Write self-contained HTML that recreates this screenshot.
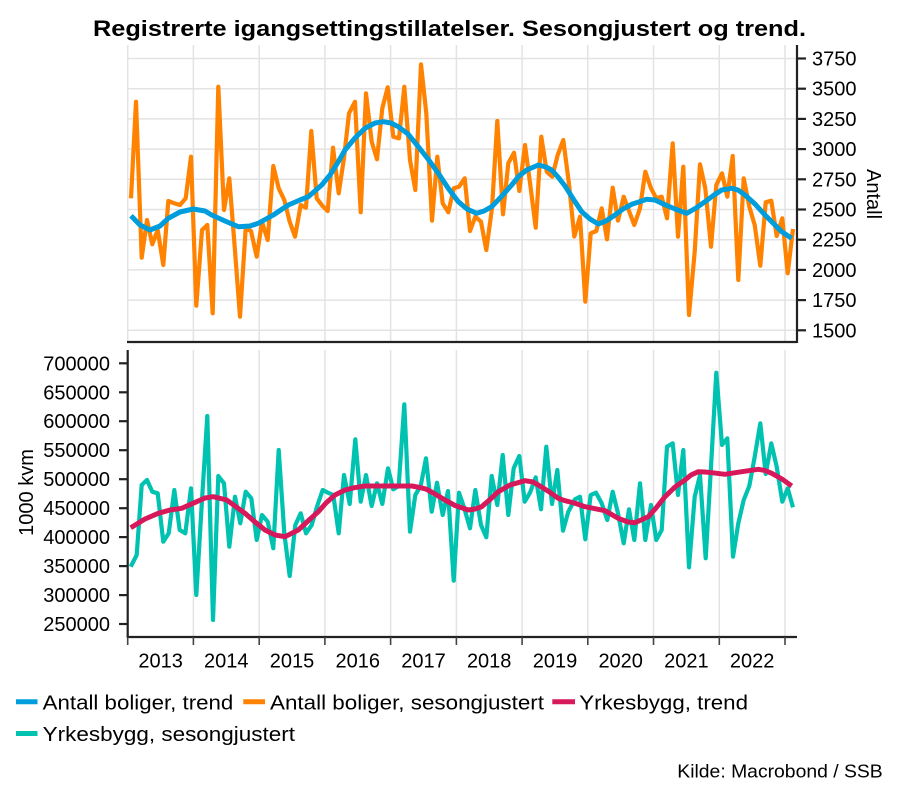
<!DOCTYPE html>
<html>
<head>
<meta charset="utf-8">
<style>
html,body{margin:0;padding:0;background:#fff;}
svg{display:block;}
text{font-family:"Liberation Sans",Arial,sans-serif;fill:#000;}
</style>
</head>
<body>
<svg width="900" height="799" viewBox="0 0 900 799" xmlns="http://www.w3.org/2000/svg">
<rect width="900" height="799" fill="#fff"/>
<!-- Title -->
<text x="93" y="36" font-size="22.5" font-weight="bold" textLength="713" lengthAdjust="spacingAndGlyphs">Registrerte igangsettingstillatelser. Sesongjustert og trend.</text>

<!-- TOP PANEL gridlines -->
<g stroke="#e3e3e3" stroke-width="1.5">
<line x1="127" y1="58.5" x2="797" y2="58.5"/>
<line x1="127" y1="88.7" x2="797" y2="88.7"/>
<line x1="127" y1="118.9" x2="797" y2="118.9"/>
<line x1="127" y1="149.1" x2="797" y2="149.1"/>
<line x1="127" y1="179.3" x2="797" y2="179.3"/>
<line x1="127" y1="209.5" x2="797" y2="209.5"/>
<line x1="127" y1="239.7" x2="797" y2="239.7"/>
<line x1="127" y1="269.9" x2="797" y2="269.9"/>
<line x1="127" y1="300.1" x2="797" y2="300.1"/>
<line x1="127" y1="330.3" x2="797" y2="330.3"/>
<line x1="127.7" y1="45" x2="127.7" y2="342"/>
<line x1="193.4" y1="45" x2="193.4" y2="342"/>
<line x1="259.2" y1="45" x2="259.2" y2="342"/>
<line x1="324.9" y1="45" x2="324.9" y2="342"/>
<line x1="390.6" y1="45" x2="390.6" y2="342"/>
<line x1="456.4" y1="45" x2="456.4" y2="342"/>
<line x1="522.1" y1="45" x2="522.1" y2="342"/>
<line x1="587.8" y1="45" x2="587.8" y2="342"/>
<line x1="653.5" y1="45" x2="653.5" y2="342"/>
<line x1="719.3" y1="45" x2="719.3" y2="342"/>
<line x1="785" y1="45" x2="785" y2="342"/>
</g>
<!-- BOTTOM PANEL gridlines -->
<g stroke="#e3e3e3" stroke-width="1.5">
<line x1="193.4" y1="350" x2="193.4" y2="637"/>
<line x1="259.2" y1="350" x2="259.2" y2="637"/>
<line x1="324.9" y1="350" x2="324.9" y2="637"/>
<line x1="390.6" y1="350" x2="390.6" y2="637"/>
<line x1="456.4" y1="350" x2="456.4" y2="637"/>
<line x1="522.1" y1="350" x2="522.1" y2="637"/>
<line x1="587.8" y1="350" x2="587.8" y2="637"/>
<line x1="653.5" y1="350" x2="653.5" y2="637"/>
<line x1="719.3" y1="350" x2="719.3" y2="637"/>
<line x1="785" y1="350" x2="785" y2="637"/>
</g>

<!-- TOP series -->
<polyline fill="none" stroke="#ff8200" stroke-width="4.2" stroke-linejoin="round" points="131,198.3 136,101.7 141.7,257.7 147,220 152.3,244.3 157.7,230 163.3,265 168.3,201 174.3,203.3 180,205 185.7,198.3 191,156.7 196.3,305.7 202,230 207.3,225 212.7,313.3 218.3,86.7 224,210 229.3,178.3 234.7,247 240,316.7 245.7,228.3 251,231 256.7,256.7 262,221.7 267.7,240 273.3,166 278.7,188.3 284.3,200 289.7,221.7 295,236.7 300.7,205 306,207.7 311.3,131 316.7,198.3 322.3,205.7 327.7,211 333,147.7 338.7,193.3 344,158 349,113.3 355,101.7 360.7,212.3 366,93.3 371.7,141.7 377,159.3 382.3,108.3 387.7,87.3 393.3,136.7 399,138.3 404.3,86.7 410,160 415.3,190 421,64.3 426.3,113.3 432,220.7 437.3,156.7 442.7,203.3 448.3,212.3 453.7,188.3 459,186.7 464.7,178.3 470,231 475.3,216.7 481,221.7 486.3,250 492,208.3 497.3,121 503,214.3 508.3,163.3 514,152.7 519.3,191 525,145 530.3,185 535.7,227.7 541.3,136.7 546.7,171.7 552.3,176.7 557.7,155 563.3,140 569,184 574.3,236.5 580,216.7 585.3,301.7 590.7,233.3 596.3,231 601.7,208.3 607,239.3 612.7,187.7 618,220.7 623.7,196.7 629,211 634.3,225 640,208.3 645.3,171.7 651,188.3 656.3,198.3 661.7,196.7 667,218.3 672.7,143.3 678,236.7 683.3,166.7 689,315 694.7,251.7 700,164.3 705.3,188.3 711,246.7 716.3,185 722,173.3 727.3,196.7 732.7,156 738.3,280 743.7,178.3 749.3,206.7 754.7,225 760.3,265.7 765.7,202.3 771.3,200.7 776.7,236 782.3,218.3 787.7,273.3 793,229"/>
<polyline fill="none" stroke="#009ddc" stroke-width="5" stroke-linejoin="round" stroke-linecap="butt" points="131,215.7 140,225 150,230 160,226 168.3,218.3 180,212 193.3,209 205,211 211.7,215 225,221 238.3,226.7 250,226 258.3,223.3 273.3,215 288.3,205 300,200 308.3,196.7 321.7,185 330,175 338.3,161.7 345,150 355,138 365,128.3 375,123 383.3,121.7 391,123 398.3,126.7 408,134 418.3,146.7 428,159 438.3,173.3 448,188 458.3,201.7 467,209 476.7,213.3 484,211 491.7,206.7 501,197 511.7,185 519,176 526.7,170 538.3,165 546,167 551.7,170 558,177 565,186 575,201.7 581.7,211.7 590,219 598.3,224 606,221 615,215 623,209 631.7,204.3 646.7,199.3 655,200 661.7,203.3 675,209 686.7,213.3 696,208 705,201.7 714,195 721.7,190 731.7,188.3 738,190 745,195 755,204 765,215 774,224 781.7,231.7 791.7,238.3"/>

<!-- BOTTOM series -->
<polyline fill="none" stroke="#00c2b0" stroke-width="4.2" stroke-linejoin="round" points="130.7,566.7 136.7,555 141.7,485 147,480 152.3,491.7 157.7,493.3 163.3,541.7 168.7,533.3 174.3,490 179.7,530 185.3,533.3 191,488.3 196.3,595 202,500 207.3,416 213,620 218.3,476 224,483.3 229.3,546.7 235,496.7 240.3,523.3 245.7,491.7 251.3,498.3 256.7,540 262,515 267.7,521.7 273.3,548.3 278.7,450 284.3,533.3 289.7,576 295.3,525 300.7,513.3 306,533.3 311.7,525 317,506.7 322.7,490 328,492.7 333.3,495 338.7,533.3 344,475 349.7,504 355.3,439.3 360.7,501.7 366,475 371.7,506 377,483.3 382.3,504 388,468.3 393.3,489.3 398.7,486 404.3,404.3 410,531.7 415.3,495 420.7,486 426,458.3 431.7,511.7 437,482.7 442.7,515 448,491 453.7,580.7 459,492.7 464.3,508.3 470,528.3 475.3,490 481,525 486.3,537.3 491.7,476 497.3,505 502.7,455 508.3,515 513.7,468.3 519.3,456 524.7,501.7 530,492.7 535.7,477.3 541,509.3 546.3,446.7 552,504 557.3,470 563,530.7 568.3,511.7 575,499.3 580,496.7 585.3,539.3 590.7,495 596,492.7 601.7,503.3 607.3,520 612.7,491.7 618,513.3 623.7,543.3 629,509.3 634.3,540 640,483.3 645.3,540 651,505 656.3,540 661.7,530 667,446.7 672.7,443.3 678,495 683.3,450 689,567.3 694.7,496.7 700,475 705.7,558.3 711,466.7 716.3,372.7 722,445 727.3,438.3 733,556.7 738.3,523.3 743.7,500 749.3,486 754.7,456.7 760.3,423.3 765.7,474 771.3,443.3 776.7,466.7 782.3,501.7 787.7,488.3 793,507.3"/>
<polyline fill="none" stroke="#d7195b" stroke-width="5" stroke-linejoin="round" points="130.7,527.7 145,519 158.3,513.3 170,510 181.7,508.3 196.7,501.7 205,498 213.3,496.7 226.7,500 235,506 245,513.3 255,522 265,530 275,535 285,536.7 298.3,530 308,521 318.3,511.7 326,503 335,495 345,490 354.3,487.7 365,486 380,486 395,486 411.7,486 420,487.5 426.7,489.3 435,494 445,500 455,505.5 468.3,510 475,509 481.7,506.7 490,499.5 498.3,491.7 510,485 525,480.7 533,482 538.3,485 548,491 558.3,498.3 565,500.7 574.3,503 585,506.7 605,510.7 618.3,518.3 628,522 635,522.7 641,520 648.3,516.7 656,508 665,496.7 675,487 685,480 691,475 698.3,471.7 705,472 711.7,472.7 725,474.3 741.7,471.7 758.3,469.3 765,470.5 771.7,473.3 782,479 791.7,486"/>

<!-- TOP axes -->
<g stroke="#222" stroke-width="2.2">
<line x1="127" y1="342" x2="797" y2="342"/>
<line x1="797" y1="45" x2="797" y2="343"/>
<line x1="797" y1="58.5" x2="806" y2="58.5"/>
<line x1="797" y1="88.7" x2="806" y2="88.7"/>
<line x1="797" y1="118.9" x2="806" y2="118.9"/>
<line x1="797" y1="149.1" x2="806" y2="149.1"/>
<line x1="797" y1="179.3" x2="806" y2="179.3"/>
<line x1="797" y1="209.5" x2="806" y2="209.5"/>
<line x1="797" y1="239.7" x2="806" y2="239.7"/>
<line x1="797" y1="269.9" x2="806" y2="269.9"/>
<line x1="797" y1="300.1" x2="806" y2="300.1"/>
<line x1="797" y1="330.3" x2="806" y2="330.3"/>
</g>
<g font-size="20">
<text x="812" y="65.5">3750</text>
<text x="812" y="95.7">3500</text>
<text x="812" y="125.9">3250</text>
<text x="812" y="156.1">3000</text>
<text x="812" y="186.3">2750</text>
<text x="812" y="216.5">2500</text>
<text x="812" y="246.7">2250</text>
<text x="812" y="276.9">2000</text>
<text x="812" y="307.1">1750</text>
<text x="812" y="337.3">1500</text>
</g>
<text font-size="20" text-anchor="middle" transform="translate(867,194) rotate(90)">Antall</text>

<!-- BOTTOM axes -->
<g stroke="#222" stroke-width="2.2">
<line x1="127.7" y1="350" x2="127.7" y2="637"/>
<line x1="126.7" y1="637" x2="797" y2="637"/>
<line x1="119" y1="363.3" x2="127.7" y2="363.3"/>
<line x1="119" y1="392.3" x2="127.7" y2="392.3"/>
<line x1="119" y1="421.2" x2="127.7" y2="421.2"/>
<line x1="119" y1="450.2" x2="127.7" y2="450.2"/>
<line x1="119" y1="479.2" x2="127.7" y2="479.2"/>
<line x1="119" y1="508.2" x2="127.7" y2="508.2"/>
<line x1="119" y1="537.1" x2="127.7" y2="537.1"/>
<line x1="119" y1="566.1" x2="127.7" y2="566.1"/>
<line x1="119" y1="595.1" x2="127.7" y2="595.1"/>
<line x1="119" y1="624" x2="127.7" y2="624"/>
</g>
<g stroke="#444" stroke-width="1.6">
<line x1="127.7" y1="637" x2="127.7" y2="645"/>
<line x1="193.4" y1="637" x2="193.4" y2="645"/>
<line x1="259.2" y1="637" x2="259.2" y2="645"/>
<line x1="324.9" y1="637" x2="324.9" y2="645"/>
<line x1="390.6" y1="637" x2="390.6" y2="645"/>
<line x1="456.4" y1="637" x2="456.4" y2="645"/>
<line x1="522.1" y1="637" x2="522.1" y2="645"/>
<line x1="587.8" y1="637" x2="587.8" y2="645"/>
<line x1="653.5" y1="637" x2="653.5" y2="645"/>
<line x1="719.3" y1="637" x2="719.3" y2="645"/>
<line x1="785" y1="637" x2="785" y2="645"/>
</g>
<g font-size="20" text-anchor="end">
<text x="110" y="370.3">700000</text>
<text x="110" y="399.3">650000</text>
<text x="110" y="428.2">600000</text>
<text x="110" y="457.2">550000</text>
<text x="110" y="486.2">500000</text>
<text x="110" y="515.2">450000</text>
<text x="110" y="544.1">400000</text>
<text x="110" y="573.1">350000</text>
<text x="110" y="602.1">300000</text>
<text x="110" y="631">250000</text>
</g>
<text font-size="20" text-anchor="middle" transform="translate(33,492.5) rotate(-90)">1000 kvm</text>

<g font-size="20" text-anchor="middle">
<text x="160.6" y="667.3">2013</text>
<text x="226.3" y="667.3">2014</text>
<text x="292" y="667.3">2015</text>
<text x="357.8" y="667.3">2016</text>
<text x="423.5" y="667.3">2017</text>
<text x="489.2" y="667.3">2018</text>
<text x="555" y="667.3">2019</text>
<text x="620.7" y="667.3">2020</text>
<text x="686.4" y="667.3">2021</text>
<text x="752.1" y="667.3">2022</text>
</g>

<!-- Legend -->
<g stroke-width="5">
<line x1="16" y1="701.7" x2="37.5" y2="701.7" stroke="#009ddc"/>
<line x1="243.3" y1="701.7" x2="265" y2="701.7" stroke="#ff8200"/>
<line x1="552.3" y1="701.7" x2="575" y2="701.7" stroke="#d7195b"/>
<line x1="16" y1="733.5" x2="37.5" y2="733.5" stroke="#00c2b0"/>
</g>
<g font-size="20">
<text x="42.7" y="709.3" textLength="190.6" lengthAdjust="spacingAndGlyphs">Antall boliger, trend</text>
<text x="270" y="709.3" textLength="274" lengthAdjust="spacingAndGlyphs">Antall boliger, sesongjustert</text>
<text x="579.3" y="709.3" textLength="168.7" lengthAdjust="spacingAndGlyphs">Yrkesbygg, trend</text>
<text x="42.7" y="741" textLength="252.3" lengthAdjust="spacingAndGlyphs">Yrkesbygg, sesongjustert</text>
</g>
<text x="677.3" y="777.3" font-size="18.5" textLength="205.4" lengthAdjust="spacingAndGlyphs">Kilde: Macrobond / SSB</text>
</svg>
</body>
</html>
